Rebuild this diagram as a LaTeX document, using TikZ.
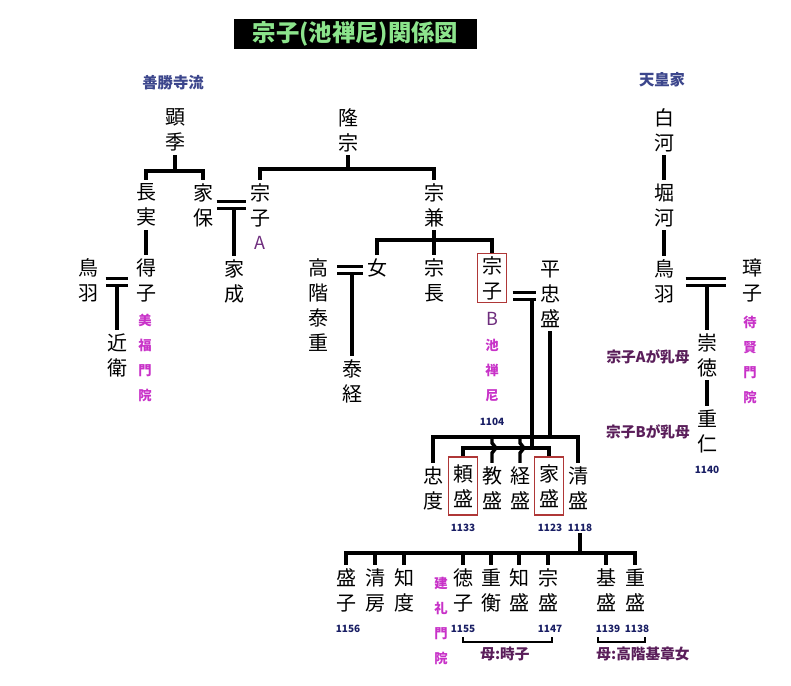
\documentclass[tikz,border=0pt]{standalone}
\usepackage{fontspec}
\usepackage{xcolor}
\usepackage{tikz}

\newfontfamily\jp{Noto Sans CJK JP}

\definecolor{titlegreen}{RGB}{140,228,140}
\definecolor{clanblue}{RGB}{60,70,140}
\definecolor{letterpurple}{RGB}{110,45,125}
\definecolor{ingopink}{RGB}{200,50,200}
\definecolor{notepurple}{RGB}{90,30,90}
\definecolor{yearblue}{RGB}{25,30,100}
\definecolor{boxred}{RGB}{175,55,55}

\tikzset{
  person/.style={font=\jp\fontsize{15}{18.75}\selectfont, align=center, inner sep=2.6pt},
  marked/.style={person, draw=boxred, line width=1pt, inner sep=2pt, minimum width=21.75pt},
  ingo/.style={font=\jp\bfseries\fontsize{10}{18.75}\selectfont, text=ingopink, align=center},
  letter/.style={font=\jp\fontsize{13.5}{15}\selectfont, text=letterpurple},
  year/.style={font=\jp\bfseries\fontsize{7.5}{9}\selectfont, text=yearblue, inner sep=1pt},
  clan/.style={font=\jp\bfseries\fontsize{11.5}{13}\selectfont, text=clanblue},
  note/.style={font=\jp\bfseries\fontsize{11}{13}\selectfont, text=notepurple},
  kin/.style={line width = 2.6pt},
  wed/.style={line width = 2.6pt, double, double distance = 2.6pt},
  bracket/.style={line width = 0.8pt}
}

\begin{document}
\begin{tikzpicture}[x=0.75pt, y=-0.75pt]

\useasboundingbox (0,0) rectangle (791,685);

\node[fill=black, text=titlegreen, font=\jp\bfseries\fontsize{17.5}{18}\selectfont, inner sep=0pt, minimum width=182.25pt, minimum height=22.5pt] (title) at (355.5,34) {宗子(池禅尼)関係図};

\node[clan] (zenshoji) at (173,83) {善勝寺流};
\node[clan] (tenno) at (662,80) {天皇家};

% generation of 顕季 and 隆宗
\node[person] (akisue) at (175,130) {顕\\季};
\node[person] (takamune) at (348,130) {隆\\宗};
\node[person] (shirakawa) at (664,130) {白\\河};

\node[person] (nagazane) at (146,205) {長\\実};
\node[person] (ieyasu) at (203,205) {家\\保};
\node[person] (munekoA) at (260,205) {宗\\子};
\node[letter] (letterA) at (260,243) {A};
\node[person] (munekane) at (434,205) {宗\\兼};
\node[person] (horikawa) at (664,205) {堀\\河};

\node[person] (toba) at (88,280) {鳥\\羽};
\node[person] (nariko) at (146,280) {得\\子};
\node[person] (ienari) at (234,281) {家\\成};
\node[person] (yasushige) at (318,305) {高\\階\\泰\\重};
\node[person] (onna) at (377,268) {女};
\node[person] (munenaga) at (434,280) {宗\\長};
\node[marked] (munekoB) at (492,278) {宗\\子};
\node[letter] (letterB) at (492,319) {B};
\node[ingo] (ikenozenni) at (492,370) {池\\禅\\尼};
\node[year] (y1104) at (492,422) {1104};
\node[person] (tadamori) at (550,294) {平\\忠\\盛};
\node[person] (toba2) at (664,281) {鳥\\羽};
\node[person] (shoshi) at (752,280) {璋\\子};
\node[ingo] (taikenmonin) at (750,360) {待\\賢\\門\\院};

\node[person] (konoe) at (117,355) {近\\衛};
\node[ingo] (bifukumonin) at (145,358) {美\\福\\門\\院};
\node[person] (yasutsune) at (352,381) {泰\\経};
\node[person] (sutoku) at (707,355) {崇\\徳};
\node[person] (shigehito) at (707,431) {重\\仁};
\node[year] (y1140) at (707,470) {1140};
\node[note] (nurseA) at (648,357) {宗子Aが乳母};
\node[note] (nurseB) at (648,432) {宗子Bが乳母};

% children of 忠盛
\node[person] (tadanori) at (433,488) {忠\\度};
\node[marked, minimum height=43.5pt] (yorimori) at (463,486) {頼\\盛};
\node[person] (norimori) at (492,488) {教\\盛};
\node[person] (tsunemori) at (520,488) {経\\盛};
\node[marked, minimum height=43.5pt] (iemori) at (549,486) {家\\盛};
\node[person] (kiyomori) at (578,488) {清\\盛};
\node[year] (y1133) at (463,528) {1133};
\node[year] (y1123) at (550,528) {1123};
\node[year] (y1118) at (580,528) {1118};

% children of 清盛
\node[person] (moriko) at (346,590) {盛\\子};
\node[person] (kiyofusa) at (375,590) {清\\房};
\node[person] (tomonori) at (404,590) {知\\度};
\node[ingo] (kenreimonin) at (441,621) {建\\礼\\門\\院};
\node[person] (tokuko) at (463,590) {徳\\子};
\node[person] (shigehira) at (491,590) {重\\衡};
\node[person] (tomomori) at (519,590) {知\\盛};
\node[person] (munemori) at (548,590) {宗\\盛};
\node[person] (motomori) at (606,590) {基\\盛};
\node[person] (shigemori) at (635,590) {重\\盛};
\node[year] (y1156) at (348,629) {1156};
\node[year] (y1155) at (463,629) {1155};
\node[year] (y1147) at (550,629) {1147};
\node[year] (y1139) at (608,629) {1139};
\node[year] (y1138) at (637,629) {1138};
\node[note] (tokiko) at (505,654) {母:時子};
\node[note] (takashina) at (643,654) {母:高階基章女};

% bars
\coordinate (akiBar) at (175,171);
\coordinate (takaBar) at (348,169);
\coordinate (kaneBar) at (434,240);
\coordinate (moriBar) at (550,437);
\coordinate (ikeBar) at (532,448);
\coordinate (kiyoBar) at (580,553);

\draw[kin] (akisue) -- (akiBar);
\draw[kin] (nagazane) |- (akiBar) -| (ieyasu);

\draw[kin] (takamune) -- (takaBar);
\draw[kin] (munekoA) |- (takaBar) -| (munekane);

\draw[kin] (munekane) -- (munenaga);
\draw[kin] (onna) |- (kaneBar) -| (munekoB);

\draw[kin] (nagazane) -- (nariko);
\draw[kin] (shirakawa) -- (horikawa);
\draw[kin] (horikawa) -- (toba2);
\draw[kin] (sutoku) -- (shigehito);

% marriages
\coordinate (ieWed) at (234,206);
\coordinate (tobaWed) at (117,282);
\coordinate (yasuWed) at (352,270);
\coordinate (tadaWed) at (532,296);
\coordinate (toba2Wed) at (707,282);

\draw[kin] (ieWed) -- (ienari);
\draw[wed] (ieyasu) -- (munekoA);

\draw[kin] (tobaWed) -- (konoe);
\draw[wed, shorten <=3pt, shorten >=3pt] (toba.east |- tobaWed) -- (nariko.west |- tobaWed);

\draw[kin] (yasuWed) -- (yasutsune);
\draw[wed, shorten <=4pt] (yasushige.east |- yasuWed) -- (onna.west |- yasuWed);

\draw[kin] (tadaWed) -- (ikeBar);
\draw[wed, shorten <=4pt] (munekoB.east |- tadaWed) -- (tadamori.west |- tadaWed);

\draw[kin] (toba2Wed) -- (sutoku);
\draw[wed, shorten <=6pt, shorten >=9pt] (toba2.east |- toba2Wed) -- (shoshi.west |- toba2Wed);

% 忠盛 and 宗子B
\draw[kin] (tadamori) -- (moriBar);
\draw[kin] (tadanori) |- (moriBar) -| (kiyomori);
\draw[kin] (yorimori) |- (ikeBar) -| (iemori);
\draw[kin] (norimori |- moriBar) -- ++(0,6) -- ++(4,5) -- ++(-4,5) -- (norimori);
\draw[kin] (tsunemori |- moriBar) -- ++(0,6) -- ++(4,5) -- ++(-4,5) -- (tsunemori);

% 清盛
\draw[kin] (y1118) -- (kiyoBar);
\draw[kin] (moriko) |- (kiyoBar) -| (shigemori);
\foreach \c in {kiyofusa, tomonori, tokuko, shigehira, tomomori, munemori, motomori}
  \draw[kin] (\c |- kiyoBar) -- (\c);

\coordinate (tokiL) at (463,637);
\coordinate (tokiR) at (552,637);
\coordinate (takaL) at (598,637);
\coordinate (takaR) at (645,637);
\draw[bracket] (tokiL) -- ++(0,5) -| (tokiR);
\draw[bracket] (takaL) -- ++(0,5) -| (takaR);

\end{tikzpicture}
\end{document}
